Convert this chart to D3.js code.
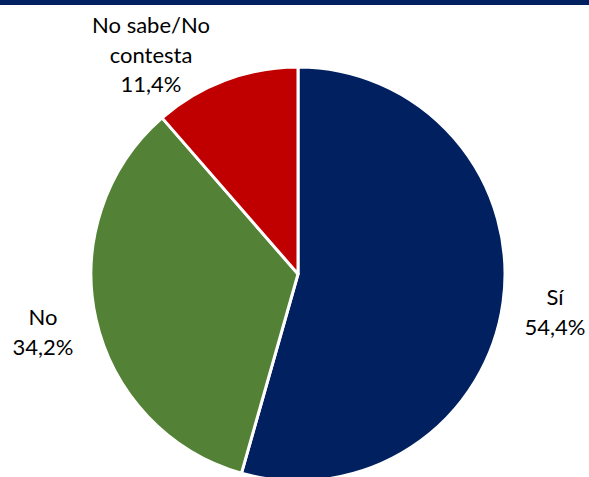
<!DOCTYPE html>
<html>
<head>
<meta charset="utf-8">
<script src="https://cdn.jsdelivr.net/npm/d3@7"></script>
<style>
  html, body { margin: 0; padding: 0; background: #fff; }
  text { font-family: Lato, "Open Sans", sans-serif; fill: #000; }
</style>
</head>
<body>
<svg id="chart" width="589" height="477"></svg>
<script>
// Survey answers (share of respondents, %)
const categories = ["Sí", "No", "No sabe/No contesta"];
const values = [54.4, 34.2, 11.4];
const colors = ["#002060", "#538135", "#C00000"];
// Label lines for each slice
const labelLines = [["Sí", "54,4%"], ["No", "34,2%"], ["No sabe/No", "contesta", "11,4%"]];

const svg = d3.select("#chart");
const W = 589, H = 477;

// Header band
svg.append("rect").attr("x", 0).attr("y", 0).attr("width", W).attr("height", 5).attr("fill", "#002060");

const cx = 298, cy = 274, r = 207;
const g = svg.append("g").attr("transform", `translate(${cx},${cy})`);

const pie = d3.pie().sort(null).value(d => d.value);
const data = pie(categories.map((c, i) => ({ cat: c, value: values[i], lines: labelLines[i], color: colors[i] })));
const arc = d3.arc().innerRadius(0).outerRadius(r);

g.selectAll("path.slice")
  .data(data)
  .join("path")
  .attr("class", "slice")
  .attr("d", arc)
  .attr("fill", d => d.data.color)
  .attr("stroke", "#fff")
  .attr("stroke-width", 3)
  .attr("stroke-linejoin", "round");

// Outside labels: anchor point relative to pie centre (first-line baseline)
const labelAnchor = [
  { x: 257, y: 31 },
  { x: -255, y: 51 },
  { x: -147, y: -241 }
];
const lineH = 29.5;
data.forEach((d, i) => {
  const lines = d.data.lines;
  const t = g.append("text")
    .attr("text-anchor", "middle")
    .attr("font-size", 22);
  lines.forEach((ln, j) => {
    t.append("tspan")
      .attr("x", labelAnchor[i].x)
      .attr("y", labelAnchor[i].y + j * lineH)
      .text(ln);
  });
});
</script>
</body>
</html>
